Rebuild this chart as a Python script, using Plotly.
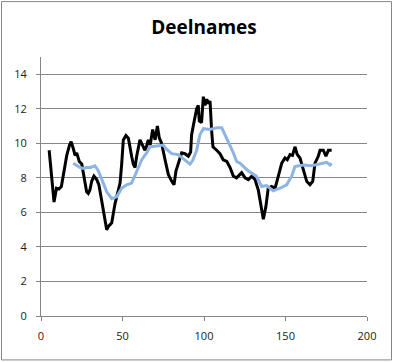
import plotly.graph_objects as go

title_text = "Deelnames"

x_black = [5, 6.5, 8, 9.5, 11, 12.5, 14, 15.8, 17.5, 18.5, 19.8, 20.9, 21.9, 23.5, 25, 26, 26.6, 28, 29, 30,
           31.1, 32.5, 34.2, 35.5, 37, 38.5, 40.3, 41.5, 43.4, 45.4, 47, 48.5, 49.5, 50.5, 52.1, 53.6, 55.6,
           56.6, 57.7, 58.7, 60.7, 62.4, 63.8, 64.8, 65.8, 67, 68.5, 70, 71.4, 72.6, 74, 76.1, 78.1, 80.2,
           81.6, 82.8, 84.2, 86.3, 88.3, 90.4, 91.8, 92.4, 93.4, 94.5, 95.5, 96.5, 97.1, 98.5, 99.6, 100.6,
           101.7, 102.7, 103.7, 104.7, 105.5, 107.8, 109.8, 111.8, 114, 116, 118, 120, 123.1, 125.2, 127.2,
           129.3, 131.3, 133.3, 135.4, 136.4, 138, 139.4, 141.5, 143.6, 145.6, 147.7, 149.7, 151.1, 152.8,
           154.3, 155.8, 157.2, 158.9, 160.9, 163, 165, 166.7, 168.1, 170.1, 171.2, 173.2, 174.8, 176.3, 178.3]
y_black = [9.6, 8.2, 6.6, 7.4, 7.35, 7.5, 8.4, 9.3, 9.9, 10.1, 9.7, 9.3, 9.45, 8.95, 8.8, 8.3, 7.9, 7.2, 7.1, 7.3,
           7.8, 8.1, 7.9, 7.6, 6.8, 5.9, 5.0, 5.2, 5.4, 6.5, 7.2, 7.7, 8.8, 10.2, 10.45, 10.3, 9.25,
           8.8, 8.6, 9.25, 10.2, 9.9, 9.6, 9.85, 10.2, 9.9, 10.8, 10.2, 11.0, 10.3, 10.0, 9.05, 8.2, 7.8,
           7.6, 8.4, 8.8, 9.45, 9.4, 9.25, 9.5, 10.5, 11.0, 11.6, 12.0, 12.2, 11.3, 11.2, 12.7, 12.2,
           12.55, 12.3, 12.45, 10.7, 9.8, 9.6, 9.4, 9.05, 8.95, 8.6, 8.1, 8.0, 8.3, 8.0, 7.9,
           8.1, 7.9, 7.3, 6.0, 5.6, 6.35, 7.4, 7.5, 7.4, 8.1, 8.85, 9.15, 9.05, 9.35,
           9.3, 9.8, 9.35, 9.15, 8.5, 7.8, 7.6, 7.8, 8.85, 9.25, 9.6, 9.6, 9.25, 9.6, 9.6]

x_blue = [19.8, 22, 24, 26, 28, 30.5, 33.1, 35.2, 37.2, 40.3, 43.4, 46.4, 49.5, 52.6, 55.6, 58.7, 61.8, 64.8,
          66.9, 71, 75, 77.1, 80.2, 84.2, 88.3, 91.4, 93, 95.5, 97.5, 99.6, 103.7, 107.8, 110.9, 112.9, 116,
          118, 120, 122.1, 127.2, 132.1, 135.4, 138.4, 142.5, 146.6, 150.7, 153.8, 155.8, 160.9, 166, 171.2,
          175.3, 177.3, 178.3]
y_blue = [8.85, 8.7, 8.6, 8.55, 8.6, 8.6, 8.7, 8.4, 7.9, 7.2, 6.8, 6.9, 7.4, 7.6, 7.7, 8.4, 9.05, 9.45,
          9.8, 9.85, 9.9, 9.65, 9.4, 9.35, 9.05, 8.8, 9.0, 9.6, 10.5, 10.85, 10.8, 10.9, 10.9, 10.5, 9.9,
          9.45, 8.95, 8.85, 8.4, 8.1, 7.5, 7.55, 7.25, 7.4, 7.6, 8.1, 8.65, 8.75, 8.7, 8.8,
          8.9, 8.75, 8.85]

x_ticks = [0, 50, 100, 150, 200]
y_ticks = [0, 2, 4, 6, 8, 10, 12, 14]

W, H = 394, 362
ML, MR, MT, MB = 41, 27, 57, 45.5

fig = go.Figure()
fig.add_trace(go.Scatter(x=x_black, y=y_black, mode="lines",
                         line=dict(color="#000000", width=3), showlegend=False))
fig.add_trace(go.Scatter(x=x_blue, y=y_blue, mode="lines",
                         line=dict(color="#8DB4E2", width=3), showlegend=False))

pw = W - ML - MR
ph = H - MT - MB
fig.add_shape(type="rect", xref="paper", yref="paper",
              x0=(1.5 - ML) / pw, x1=(391.5 - ML) / pw,
              y0=(H - MB - 360.5) / ph, y1=(H - MB - 1.5) / ph,
              line=dict(color="#868686", width=1), layer="below")

fig.update_layout(
    width=W, height=H,
    margin=dict(l=ML, r=MR, t=MT, b=MB),
    paper_bgcolor="white", plot_bgcolor="white",
    title=dict(text="<b>" + title_text + "</b>", x=0.5, xref="paper", xanchor="center",
               y=1 - 27 / H, yanchor="middle",
               font=dict(family="Open Sans", size=19, color="#000000")),
    font=dict(family="Open Sans", size=11, color="#1a1a1a"),
    xaxis=dict(range=[0, 200], tickvals=x_ticks, showgrid=False, zeroline=False,
               showline=True, linecolor="#868686", linewidth=1,
               ticks="outside", ticklen=4, tickcolor="#868686", ticklabelstandoff=6),
    yaxis=dict(range=[0, 15], tickvals=y_ticks, showgrid=True, gridcolor="#868686", gridwidth=1,
               zeroline=False, showline=True, linecolor="#868686", linewidth=1,
               ticks="outside", ticklen=4, tickcolor="#868686", ticklabelstandoff=7),
)

fig.write_html("out.html", config={"displayModeBar": False},
               post_script="document.body.style.margin='0';document.body.style.overflow='hidden';")
